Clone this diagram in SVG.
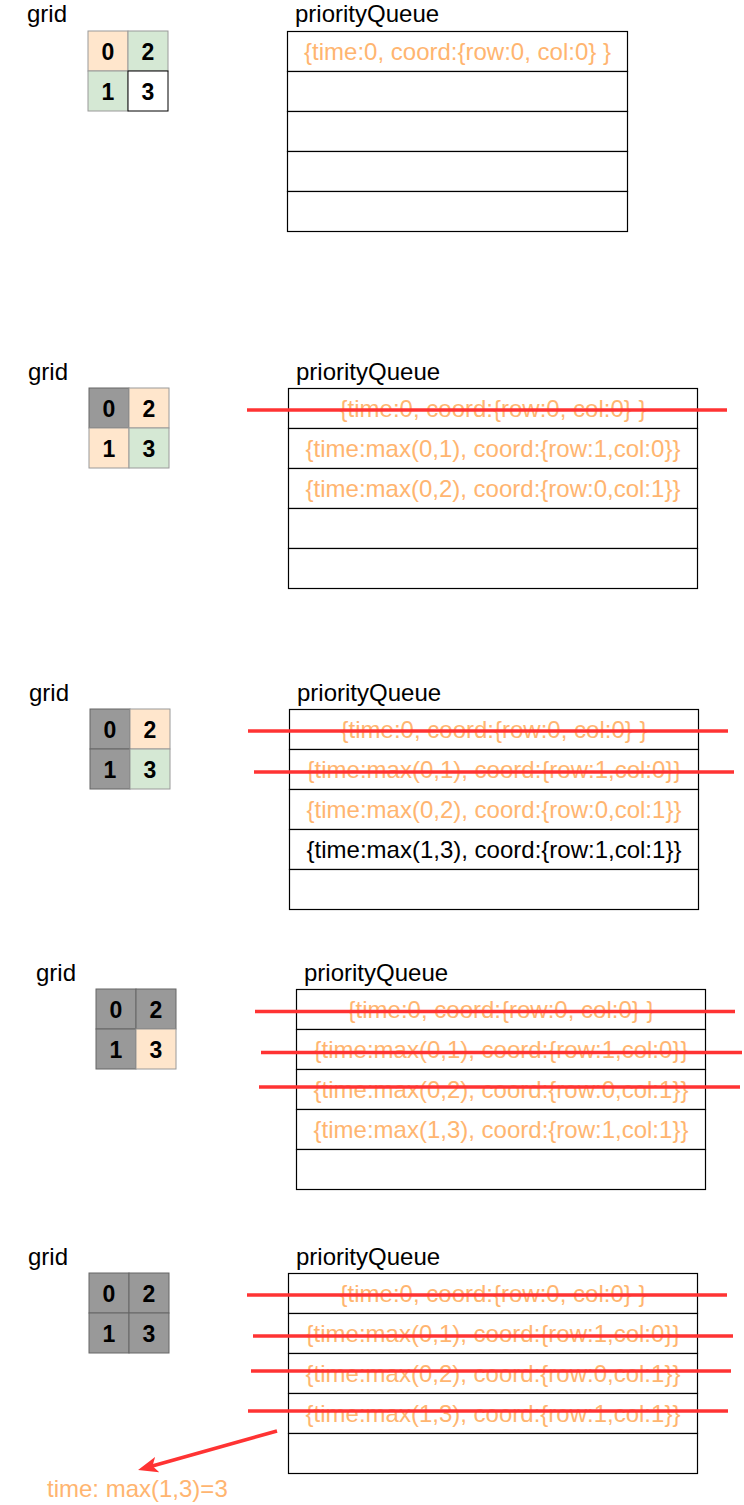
<svg xmlns="http://www.w3.org/2000/svg" width="744" height="1505" viewBox="0 0 744 1505">
<style>
.lbl{font-family:"Liberation Sans",Arial,sans-serif;font-size:24px;fill:#000}
.num{font-family:"Liberation Sans",Arial,sans-serif;font-size:23px;font-weight:bold;fill:#000;text-anchor:middle}
.q{fill:#fff;stroke:#000;stroke-width:1.2}
.qt{font-family:"Liberation Sans",Arial,sans-serif;font-size:24px;fill:#FFB570;text-anchor:middle}
.qk{font-family:"Liberation Sans",Arial,sans-serif;font-size:24px;fill:#000;text-anchor:middle}
.o{fill:#FFE6CC;stroke:#9a9a9a;stroke-width:1}
.g{fill:#D5E8D4;stroke:#9a9a9a;stroke-width:1}
.k{fill:#999999;stroke:#666;stroke-width:1}
.w{fill:#fff;stroke:#000;stroke-width:1}
.strike{stroke:#FF3333;stroke-width:3.6;fill:none}
</style>
<defs>
<marker id="ah" viewBox="0 0 20 16" refX="8" refY="8" markerWidth="20" markerHeight="16" markerUnits="userSpaceOnUse" orient="auto">
<path d="M0,0 L20,8 L0,16 L5,8 z" fill="#FF3333"/>
</marker>
</defs>

<!-- Panel 1 -->
<g id="p1-labels">
<text class="lbl" x="27" y="22">grid</text>
<text class="lbl" x="295" y="22">priorityQueue</text>
</g>
<g id="p1-grid">
<g id="p1-c0"><rect class="o" x="88" y="31" width="40" height="40"/><text class="num" x="108" y="59.5">0</text></g>
<g id="p1-c2"><rect class="g" x="128" y="31" width="40" height="40"/><text class="num" x="148" y="59.5">2</text></g>
<g id="p1-c1"><rect class="g" x="88" y="71" width="40" height="40"/><text class="num" x="108" y="99.5">1</text></g>
<g id="p1-c3"><rect class="w" x="128" y="71" width="40" height="40"/><text class="num" x="148" y="99.5">3</text></g>
</g>
<g id="p1-queue">
<g id="p1-r1"><rect class="q" x="287.5" y="31.5" width="340" height="40"/><text class="qt" x="457.5" y="59.5">{time:0, coord:{row:0, col:0} }</text></g>
<g id="p1-r2"><rect class="q" x="287.5" y="71.5" width="340" height="40"/></g>
<g id="p1-r3"><rect class="q" x="287.5" y="111.5" width="340" height="40"/></g>
<g id="p1-r4"><rect class="q" x="287.5" y="151.5" width="340" height="40"/></g>
<g id="p1-r5"><rect class="q" x="287.5" y="191.5" width="340" height="40"/></g>
</g>

<!-- Panel 2 -->
<g id="p2-labels">
<text class="lbl" x="28" y="380">grid</text>
<text class="lbl" x="296" y="380">priorityQueue</text>
</g>
<g id="p2-grid">
<g id="p2-c0"><rect class="k" x="89" y="388" width="40" height="40"/><text class="num" x="109" y="416.5">0</text></g>
<g id="p2-c2"><rect class="o" x="129" y="388" width="40" height="40"/><text class="num" x="149" y="416.5">2</text></g>
<g id="p2-c1"><rect class="o" x="89" y="428" width="40" height="40"/><text class="num" x="109" y="456.5">1</text></g>
<g id="p2-c3"><rect class="g" x="129" y="428" width="40" height="40"/><text class="num" x="149" y="456.5">3</text></g>
</g>
<g id="p2-queue">
<g id="p2-r1"><rect class="q" x="288.5" y="388.5" width="409" height="40"/><text class="qt" x="493" y="416.5">{time:0, coord:{row:0, col:0} }</text></g>
<g id="p2-r2"><rect class="q" x="288.5" y="428.5" width="409" height="40"/><text class="qt" x="493" y="456.5">{time:max(0,1), coord:{row:1,col:0}}</text></g>
<g id="p2-r3"><rect class="q" x="288.5" y="468.5" width="409" height="40"/><text class="qt" x="493" y="496.5">{time:max(0,2), coord:{row:0,col:1}}</text></g>
<g id="p2-r4"><rect class="q" x="288.5" y="508.5" width="409" height="40"/></g>
<g id="p2-r5"><rect class="q" x="288.5" y="548.5" width="409" height="40"/></g>
</g>

<!-- Panel 3 -->
<g id="p3-labels">
<text class="lbl" x="29" y="701">grid</text>
<text class="lbl" x="297" y="701">priorityQueue</text>
</g>
<g id="p3-grid">
<g id="p3-c0"><rect class="k" x="90" y="709" width="40" height="40"/><text class="num" x="110" y="737.5">0</text></g>
<g id="p3-c2"><rect class="o" x="130" y="709" width="40" height="40"/><text class="num" x="150" y="737.5">2</text></g>
<g id="p3-c1"><rect class="k" x="90" y="749" width="40" height="40"/><text class="num" x="110" y="777.5">1</text></g>
<g id="p3-c3"><rect class="g" x="130" y="749" width="40" height="40"/><text class="num" x="150" y="777.5">3</text></g>
</g>
<g id="p3-queue">
<g id="p3-r1"><rect class="q" x="289.5" y="709.5" width="409" height="40"/><text class="qt" x="494" y="737.5">{time:0, coord:{row:0, col:0} }</text></g>
<g id="p3-r2"><rect class="q" x="289.5" y="749.5" width="409" height="40"/><text class="qt" x="494" y="777.5">{time:max(0,1), coord:{row:1,col:0}}</text></g>
<g id="p3-r3"><rect class="q" x="289.5" y="789.5" width="409" height="40"/><text class="qt" x="494" y="817.5">{time:max(0,2), coord:{row:0,col:1}}</text></g>
<g id="p3-r4"><rect class="q" x="289.5" y="829.5" width="409" height="40"/><text class="qk" x="494" y="857.5">{time:max(1,3), coord:{row:1,col:1}}</text></g>
<g id="p3-r5"><rect class="q" x="289.5" y="869.5" width="409" height="40"/></g>
</g>

<!-- Panel 4 -->
<g id="p4-labels">
<text class="lbl" x="36" y="981">grid</text>
<text class="lbl" x="304" y="981">priorityQueue</text>
</g>
<g id="p4-grid">
<g id="p4-c0"><rect class="k" x="96" y="989" width="40" height="40"/><text class="num" x="116" y="1017.5">0</text></g>
<g id="p4-c2"><rect class="k" x="136" y="989" width="40" height="40"/><text class="num" x="156" y="1017.5">2</text></g>
<g id="p4-c1"><rect class="k" x="96" y="1029" width="40" height="40"/><text class="num" x="116" y="1057.5">1</text></g>
<g id="p4-c3"><rect class="o" x="136" y="1029" width="40" height="40"/><text class="num" x="156" y="1057.5">3</text></g>
</g>
<g id="p4-queue">
<g id="p4-r1"><rect class="q" x="296.5" y="989.5" width="409" height="40"/><text class="qt" x="501" y="1017.5">{time:0, coord:{row:0, col:0} }</text></g>
<g id="p4-r2"><rect class="q" x="296.5" y="1029.5" width="409" height="40"/><text class="qt" x="501" y="1057.5">{time:max(0,1), coord:{row:1,col:0}}</text></g>
<g id="p4-r3"><rect class="q" x="296.5" y="1069.5" width="409" height="40"/><text class="qt" x="501" y="1097.5">{time:max(0,2), coord:{row:0,col:1}}</text></g>
<g id="p4-r4"><rect class="q" x="296.5" y="1109.5" width="409" height="40"/><text class="qt" x="501" y="1137.5">{time:max(1,3), coord:{row:1,col:1}}</text></g>
<g id="p4-r5"><rect class="q" x="296.5" y="1149.5" width="409" height="40"/></g>
</g>

<!-- Panel 5 -->
<g id="p5-labels">
<text class="lbl" x="28" y="1265">grid</text>
<text class="lbl" x="296" y="1265">priorityQueue</text>
</g>
<g id="p5-grid">
<g id="p5-c0"><rect class="k" x="89" y="1273" width="40" height="40"/><text class="num" x="109" y="1301.5">0</text></g>
<g id="p5-c2"><rect class="k" x="129" y="1273" width="40" height="40"/><text class="num" x="149" y="1301.5">2</text></g>
<g id="p5-c1"><rect class="k" x="89" y="1313" width="40" height="40"/><text class="num" x="109" y="1341.5">1</text></g>
<g id="p5-c3"><rect class="k" x="129" y="1313" width="40" height="40"/><text class="num" x="149" y="1341.5">3</text></g>
</g>
<g id="p5-queue">
<g id="p5-r1"><rect class="q" x="288.5" y="1273.5" width="409" height="40"/><text class="qt" x="493" y="1301.5">{time:0, coord:{row:0, col:0} }</text></g>
<g id="p5-r2"><rect class="q" x="288.5" y="1313.5" width="409" height="40"/><text class="qt" x="493" y="1341.5">{time:max(0,1), coord:{row:1,col:0}}</text></g>
<g id="p5-r3"><rect class="q" x="288.5" y="1353.5" width="409" height="40"/><text class="qt" x="493" y="1381.5">{time:max(0,2), coord:{row:0,col:1}}</text></g>
<g id="p5-r4"><rect class="q" x="288.5" y="1393.5" width="409" height="40"/><text class="qt" x="493" y="1421.5">{time:max(1,3), coord:{row:1,col:1}}</text></g>
<g id="p5-r5"><rect class="q" x="288.5" y="1433.5" width="409" height="40"/></g>
</g>
<g id="result">
<text class="lbl" x="47" y="1497" style="fill:#FFB570">time: max(1,3)=3</text>
</g>

<!-- Connectors / strike-outs -->
<g id="connectors">
<line class="strike" x1="247" y1="410" x2="727" y2="410"/>
<line class="strike" x1="248" y1="731" x2="728" y2="731"/>
<line class="strike" x1="254" y1="772" x2="734" y2="772"/>
<line class="strike" x1="255" y1="1011.5" x2="735" y2="1011.5"/>
<line class="strike" x1="261" y1="1052.5" x2="742" y2="1052.5"/>
<line class="strike" x1="259" y1="1087" x2="740" y2="1087"/>
<line class="strike" x1="247" y1="1295" x2="727" y2="1295"/>
<line class="strike" x1="253" y1="1336" x2="733" y2="1336"/>
<line class="strike" x1="251" y1="1371" x2="731" y2="1371"/>
<line class="strike" x1="248" y1="1411" x2="728" y2="1411"/>
<line class="strike" x1="277" y1="1431" x2="149.6" y2="1466.8" marker-end="url(#ah)"/>
</g>
</svg>
